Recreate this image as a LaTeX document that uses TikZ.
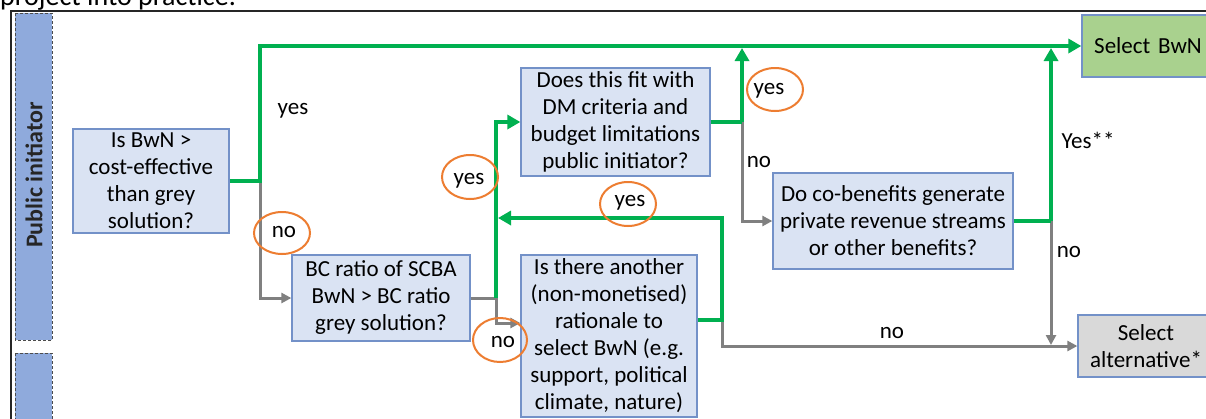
\documentclass[tikz,border=0pt]{standalone}
\usepackage{fontspec}
\setmainfont{Carlito}
\usetikzlibrary{arrows.meta,calc}
\definecolor{boxfill}{HTML}{DAE3F3}
\definecolor{boxline}{HTML}{7391C8}
\definecolor{lanefill}{HTML}{8FAADC}
\definecolor{gr}{HTML}{00B050}
\definecolor{gy}{HTML}{808080}
\definecolor{okfill}{HTML}{A9D18E}
\definecolor{altfill}{HTML}{D9D9D9}
\definecolor{orng}{HTML}{ED7D31}
\tikzset{
  qbox/.style={draw=boxline, fill=boxfill, line width=1.3pt, align=center, inner xsep=2pt, inner ysep=0pt,
    font=\fontsize{23}{27}\selectfont},
  yesline/.style={draw=gr, line width=4.5pt},
  noline/.style={draw=gy, line width=3pt},
  gtip/.style={-{Triangle[length=13pt,width=14pt]}},
  ytip/.style={-{Triangle[length=10pt,width=10pt]}},
  lbl/.style={font=\fontsize{23}{27}\selectfont, inner sep=0pt},
  ring/.style={draw=orng, line width=2pt},
  lane/.style={draw=black!70, dash pattern=on 3pt off 2pt, fill=lanefill, line width=1pt}
}
\begin{document}
\begin{tikzpicture}[x=1pt,y=-1pt]
\clip (0,0) rectangle (1206,418);
\fill[white] (0,0) rectangle (1206,418);
% cropped caption text
\node[anchor=base west, inner sep=0pt, font=\fontsize{28}{32}\selectfont] (cap) at (0,5) {project into practice.};
% outer frame
\draw[line width=1.5pt, black!85] (11,430) -- (11,11) -- (1220,11);
% lanes
\draw[lane] (15,13) rectangle (52,340);
\draw[lane] (15,353) rectangle (52,430);
\node[rotate=90, font=\fontsize{24}{28}\selectfont\bfseries, text=black!85] (lanelbl) at (34,175) {Public initiator};
% boxes
\node[qbox, minimum width=156pt, minimum height=104pt] (A) at (151,181) {Is BwN >\\cost-effective\\than grey\\solution?};
\node[qbox, minimum width=178pt, minimum height=86pt] (B) at (381,298) {BC ratio of SCBA\\BwN > BC ratio\\grey solution?};
\node[qbox, minimum width=189pt, minimum height=108pt] (C) at (615.5,122) {Does this fit with\\DM criteria and\\budget limitations\\public initiator?};
\node[qbox, minimum width=176pt, minimum height=162pt] (D) at (609,336) {Is there another\\(non-monetised)\\rationale to\\select BwN (e.g.\\support, political\\climate, nature)};
\node[qbox, minimum width=240pt, minimum height=96pt] (E) at (893,221) {Do co-benefits generate\\private revenue streams\\or other benefits?};
\node[qbox, fill=okfill, minimum width=132pt, minimum height=62pt, text width=128pt] (F) at (1148,46) {Select BwN};
\node[qbox, fill=altfill, minimum width=136pt, minimum height=62pt] (G) at (1146,346) {Select\\alternative*};
% junctions
\coordinate (j1) at (260,181);
\coordinate (j2) at (496,298);
\coordinate (j3) at (496,323);
\coordinate (j4) at (742,122);
\coordinate (j5) at (722,320);
\coordinate (j6) at (722,218);
\coordinate (j7) at (1051,221);
% gray "no" connectors
\draw[noline, ytip] (j1) |- (B.west);
\draw[noline] (B.east) -- (j2);
\draw[noline, ytip] (j2) -- (j3) -- (D.west |- j3);
\draw[noline, ytip] (j4) |- (E.west);
\draw[noline, ytip] (j5) |- (G.west);
\draw[noline, ytip] (j7) -- ($(j7 |- G.west)+(0,-1)$);
% green "yes" connectors
\draw[yesline, gtip] (A.east) -- (j1) |- (F.west);
\draw[yesline, gtip] (j2) |- (C.west);
\draw[yesline] (C.east) -- (j4);
\draw[yesline, gtip] (j4) -- ($(j4 |- F.west)+(0,2)$);
\draw[yesline, gtip] (D.east |- j5) -- (j5) -- (j6) -- ($(j2 |- j6)+(2,0)$);
\draw[yesline] (E.east) -- (j7);
\draw[yesline, gtip] (j7) -- ($(j7 |- F.west)+(0,2)$);
% labels
\node[lbl] (l1) at (293,111) {yes};
\node[lbl] (l2) at (284,232) {no};
\draw[ring] (282,233) ellipse [x radius=28, y radius=21];
\node[lbl] (l3) at (469,181) {yes};
\draw[ring] (470,177) ellipse [x radius=28, y radius=22];
\node[lbl] (l4) at (630,203) {yes};
\draw[ring] (628,204) ellipse [x radius=28, y radius=22];
\node[lbl] (l5) at (503,342) {no};
\draw[ring] (500,340) ellipse [x radius=27, y radius=22];
\node[lbl] (l6) at (769,91) {yes};
\draw[ring] (775,89.5) ellipse [x radius=28, y radius=21.5];
\node[lbl] (l7) at (759,162) {no};
\node[lbl] (l8) at (1088,140) {Yes**};
\node[lbl] (l9) at (1069,252) {no};
\node[lbl] (l10) at (892,333) {no};
\end{tikzpicture}
\end{document}
